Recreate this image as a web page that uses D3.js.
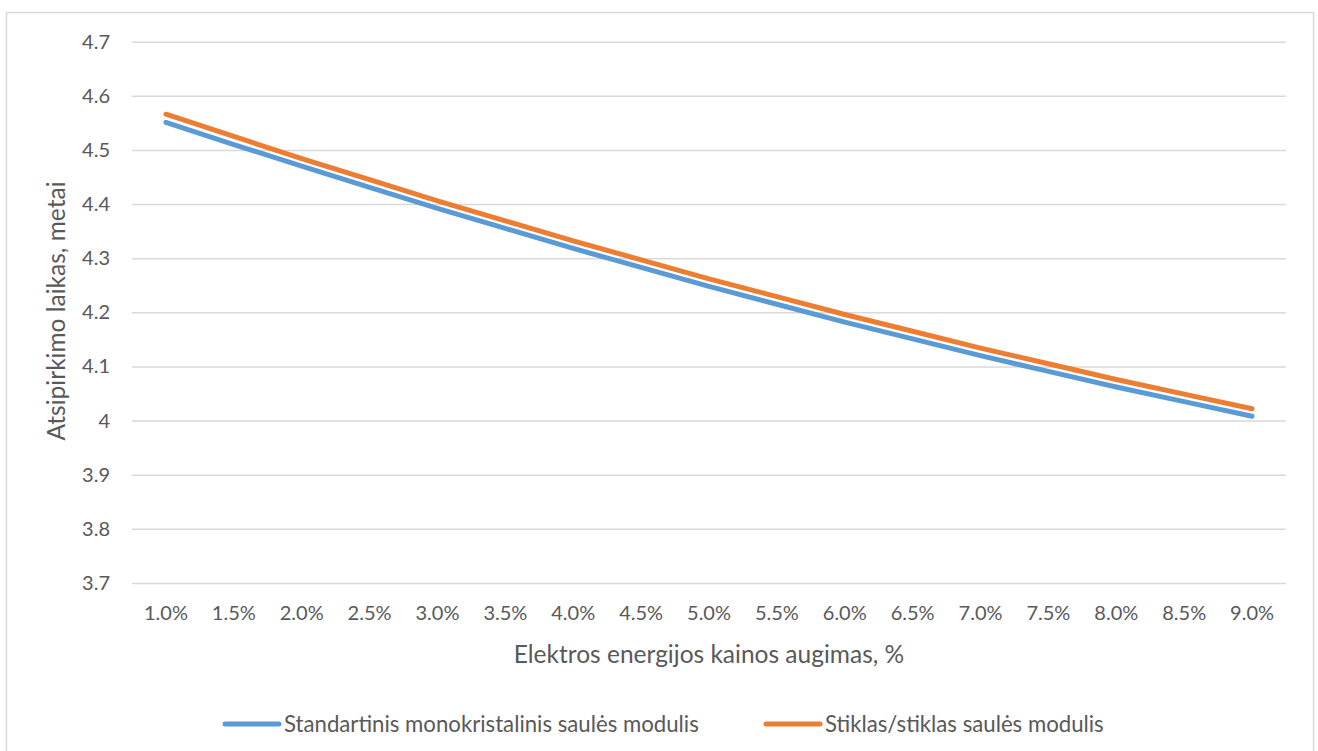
<!DOCTYPE html>
<html>
<head>
<meta charset="utf-8">
<script src="https://cdn.jsdelivr.net/npm/d3@7"></script>
<style>
  html, body { margin: 0; padding: 0; background: #fff; }
  svg { display: block; font-family: Lato, "Open Sans", sans-serif; }
</style>
</head>
<body>
<svg id="chart" width="1318" height="751"></svg>
<script>
// Electricity price growth scenarios (x categories)
const categories = ["1.0%", "1.5%", "2.0%", "2.5%", "3.0%", "3.5%", "4.0%", "4.5%", "5.0%",
                    "5.5%", "6.0%", "6.5%", "7.0%", "7.5%", "8.0%", "8.5%", "9.0%"];

// Payback period, years
const standardModule = [4.551, 4.510, 4.470, 4.431, 4.392, 4.355, 4.318, 4.283, 4.248,
                        4.215, 4.182, 4.151, 4.120, 4.091, 4.062, 4.035, 4.008];
const glassGlassModule = [4.566, 4.525, 4.484, 4.445, 4.406, 4.369, 4.332, 4.297, 4.262,
                          4.229, 4.196, 4.165, 4.134, 4.105, 4.076, 4.049, 4.022];

const yTicks = [3.7, 3.8, 3.9, 4.0, 4.1, 4.2, 4.3, 4.4, 4.5, 4.6, 4.7];
const yTickLabels = ["3.7", "3.8", "3.9", "4", "4.1", "4.2", "4.3", "4.4", "4.5", "4.6", "4.7"];

const seriesNames = ["Standartinis monokristalinis saulės modulis", "Stiklas/stiklas saulės modulis"];
const seriesColors = ["#5B9BD5", "#ED7D31"];

const xTitle = "Elektros energijos kainos augimas, %";
const yTitle = "Atsipirkimo laikas, metai";

const svg = d3.select("#chart");
const textColor = "#595959";
const gridColor = "#d9d9d9";

// outer frame
svg.append("rect")
  .attr("x", 6.5).attr("y", 12.5)
  .attr("width", 1307).attr("height", 760)
  .attr("fill", "none").attr("stroke", gridColor).attr("stroke-width", 1.5);

const plot = { left: 132, right: 1286, top: 41.7, bottom: 583 };

const x = d3.scaleBand().domain(categories).range([plot.left, plot.right]);
const y = d3.scaleLinear().domain([3.7, 4.7]).range([plot.bottom, plot.top]);

// horizontal gridlines + y labels
const yAxis = d3.axisLeft(y)
  .tickValues(yTicks)
  .tickFormat((d, i) => yTickLabels[i])
  .tickSize(-(plot.right - plot.left))
  .tickPadding(22);

const gy = svg.append("g").attr("transform", `translate(${plot.left},0)`).call(yAxis);
gy.select(".domain").remove();
gy.selectAll(".tick line").attr("stroke", gridColor).attr("stroke-width", 1.5);
gy.selectAll(".tick text")
  .attr("fill", textColor).attr("font-size", 20).attr("font-family", "Lato, sans-serif");

// x labels
const xAxis = d3.axisBottom(x).tickSize(0).tickPadding(23);
const gx = svg.append("g").attr("transform", `translate(0,${plot.bottom})`).call(xAxis);
gx.select(".domain").remove();
gx.selectAll(".tick text")
  .attr("fill", textColor).attr("font-size", 20).attr("font-family", "Lato, sans-serif");

// axis titles
svg.append("text")
  .attr("x", 709).attr("y", 663)
  .attr("text-anchor", "middle")
  .attr("fill", textColor).attr("font-size", 24.5)
  .text(xTitle);

svg.append("text")
  .attr("transform", `translate(65,${311}) rotate(-90)`)
  .attr("text-anchor", "middle")
  .attr("fill", textColor).attr("font-size", 24.5)
  .text(yTitle);

// series lines
const line = d3.line()
  .x((d, i) => x(categories[i]) + x.bandwidth() / 2)
  .y(d => y(d));

[standardModule, glassGlassModule].forEach((vals, k) => {
  svg.append("path")
    .datum(vals)
    .attr("d", line)
    .attr("fill", "none")
    .attr("stroke", seriesColors[k])
    .attr("stroke-width", 5)
    .attr("stroke-linecap", "round")
    .attr("stroke-linejoin", "round");
});

// legend
const legendItems = [
  { lx: 225, tx: 284 },
  { lx: 766, tx: 825 }
];
const legendY = 724;
seriesNames.forEach((name, k) => {
  const it = legendItems[k];
  svg.append("line")
    .attr("x1", it.lx).attr("x2", it.tx - 5)
    .attr("y1", legendY).attr("y2", legendY)
    .attr("stroke", seriesColors[k]).attr("stroke-width", 5)
    .attr("stroke-linecap", "round");
  svg.append("text")
    .attr("x", it.tx).attr("y", legendY + 8)
    .attr("fill", textColor).attr("font-size", 22.2)
    .text(name);
});
</script>
</body>
</html>
